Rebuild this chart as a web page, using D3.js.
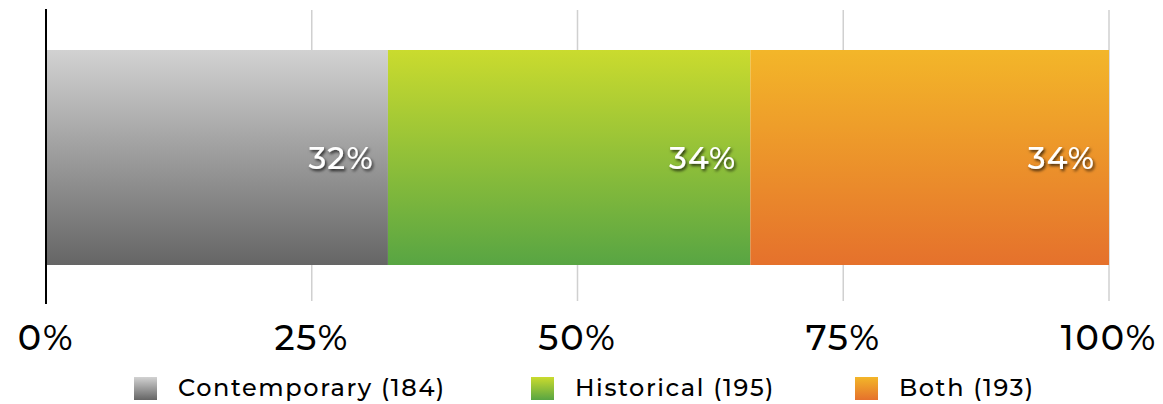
<!DOCTYPE html>
<html>
<head>
<meta charset="utf-8">
<script src="https://cdn.jsdelivr.net/npm/d3@7"></script>
<style>
  body { margin: 0; background: #fff; }
  svg text { font-family: "Montserrat", "Inter", "Noto Sans", sans-serif; font-weight: 500; }
</style>
</head>
<body>
<svg id="chart" width="1163" height="404"></svg>
<script>
// data
const categories = ['Contemporary', 'Historical', 'Both']
const counts = [184, 195, 193]
const ticks = [0, 25, 50, 75, 100]
const gradients = [
  ['#d2d2d2', '#656565'],
  ['#cadb2e', '#58a543'],
  ['#f3b629', '#e5712c']
]

const width = 1163, height = 404
const margin = {left: 46, right: 54, top: 50}
const barH = 215

const svg = d3.select('#chart')
const defs = svg.append('defs')

gradients.forEach((g, i) => {
  const lg = defs.append('linearGradient')
    .attr('id', 'grad-' + i)
    .attr('x1', 0).attr('y1', 0).attr('x2', 0).attr('y2', 1)
  lg.append('stop').attr('offset', '0%').attr('stop-color', g[0])
  lg.append('stop').attr('offset', '100%').attr('stop-color', g[1])
})

const shadow = defs.append('filter').attr('id', 'shadow')
  .attr('x', '-20%').attr('y', '-20%').attr('width', '140%').attr('height', '160%')
shadow.append('feDropShadow')
  .attr('dx', 1.5).attr('dy', 2).attr('stdDeviation', 1.6)
  .attr('flood-color', '#000').attr('flood-opacity', 0.75)

const total = d3.sum(counts)
const x = d3.scaleLinear().domain([0, 100]).range([margin.left, width - margin.right])

// stacked segments
let acc = 0
const segs = counts.map((c, i) => {
  const p = c / total * 100
  const s = {name: categories[i], count: c, start: acc, end: acc + p, pct: p, i}
  acc += p
  return s
})

// gridlines
svg.append('g').selectAll('line')
  .data(ticks.filter(t => t > 0))
  .join('line')
  .attr('x1', d => x(d)).attr('x2', d => x(d))
  .attr('y1', 10).attr('y2', 301)
  .attr('stroke', '#d0d0d0').attr('stroke-width', 1.5)

// bars
svg.append('g').selectAll('rect')
  .data(segs)
  .join('rect')
  .attr('x', d => x(d.start))
  .attr('width', d => x(d.end) - x(d.start))
  .attr('y', margin.top)
  .attr('height', barH)
  .attr('fill', d => `url(#grad-${d.i})`)

// value labels
svg.append('g').selectAll('text')
  .data(segs)
  .join('text')
  .attr('x', d => x(d.end) - 14)
  .attr('y', margin.top + barH / 2 + 11)
  .attr('text-anchor', 'end')
  .attr('fill', '#fff')
  .attr('font-size', 31)
  .attr('letter-spacing', 1.2)
  .attr('filter', 'url(#shadow)')
  .text(d => Math.round(d.pct) + '%')

// axis line
svg.append('line')
  .attr('x1', x(0)).attr('x2', x(0))
  .attr('y1', 9).attr('y2', 304)
  .attr('stroke', '#000').attr('stroke-width', 2)

// tick labels
svg.append('g').selectAll('text')
  .data(ticks)
  .join('text')
  .attr('x', d => x(d))
  .attr('y', 350)
  .attr('text-anchor', 'middle')
  .attr('font-size', 35)
  .attr('letter-spacing', 1.8)
  .attr('fill', '#000')
  .text(d => d + '%')

// legend
const legendX = [134, 531, 855]
const leg = svg.append('g').selectAll('g')
  .data(segs)
  .join('g')
  .attr('transform', (d, i) => `translate(${legendX[i]},377)`)
leg.append('rect')
  .attr('width', 23).attr('height', 23)
  .attr('fill', d => `url(#grad-${d.i})`)
leg.append('text')
  .attr('x', 44).attr('y', 19)
  .attr('font-size', 24)
  .attr('letter-spacing', 1.6)
  .attr('fill', '#000')
  .text(d => `${d.name} (${d.count})`)
</script>
</body>
</html>
